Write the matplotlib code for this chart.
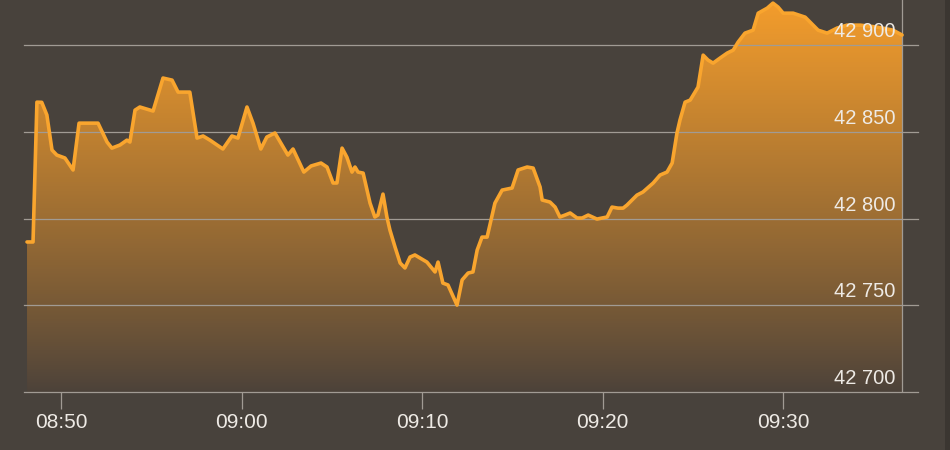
import numpy as np
import pandas as pd
import matplotlib
matplotlib.use("Agg")
import matplotlib.pyplot as plt
import matplotlib.dates as mdates
from matplotlib.patches import Rectangle

plt.rcParams['font.family'] = ['Liberation Sans', 'DejaVu Sans']

# index values
times = [
    "08:48:07", "08:48:27", "08:48:40", "08:48:56", "08:49:13", "08:49:30", "08:49:46", "08:50:13",
    "08:50:40", "08:51:00", "08:51:26", "08:52:03", "08:52:33", "08:52:49", "08:53:16", "08:53:39",
    "08:53:49", "08:54:06", "08:54:22", "08:55:06", "08:55:39", "08:56:09", "08:56:29", "08:57:08",
    "08:57:32", "08:57:52", "08:58:15", "08:58:58", "08:59:28", "08:59:48", "09:00:18", "09:00:38",
    "09:01:04", "09:01:24", "09:01:51", "09:02:34", "09:02:51", "09:03:27", "09:03:51", "09:04:24",
    "09:04:44", "09:05:04", "09:05:17", "09:05:34", "09:05:50", "09:06:07", "09:06:17", "09:06:27",
    "09:06:44", "09:07:07", "09:07:23", "09:07:33", "09:07:50", "09:08:03", "09:08:13", "09:08:30",
    "09:08:47", "09:09:03", "09:09:20", "09:09:36", "09:10:16", "09:10:43", "09:10:53", "09:11:09",
    "09:11:26", "09:11:56", "09:12:13", "09:12:33", "09:12:49", "09:13:03", "09:13:19", "09:13:36",
    "09:14:02", "09:14:26", "09:14:59", "09:15:19", "09:15:49", "09:16:09", "09:16:32", "09:16:39",
    "09:17:05", "09:17:22", "09:17:38", "09:17:55", "09:18:12", "09:18:35", "09:18:52", "09:19:12",
    "09:19:41", "09:20:15", "09:20:31", "09:20:51", "09:21:08", "09:21:21", "09:21:54", "09:22:14",
    "09:22:48", "09:23:11", "09:23:34", "09:23:51", "09:24:07", "09:24:17", "09:24:34", "09:24:51",
    "09:25:17", "09:25:34", "09:25:50", "09:26:07", "09:26:30", "09:26:54", "09:27:14", "09:27:30",
    "09:27:53", "09:28:20", "09:28:37", "09:29:07", "09:29:26", "09:29:43", "09:30:00", "09:30:33",
    "09:31:13", "09:31:29", "09:31:56", "09:32:26", "09:32:59", "09:33:32", "09:34:16", "09:35:12",
    "09:36:05", "09:36:35",
]
values = [
    42786.5, 42786.5, 42867.1, 42867.0, 42859.7, 42839.5, 42836.6, 42834.9,
    42828.0, 42855.0, 42855.0, 42855.0, 42844.1, 42840.6, 42842.4, 42845.2,
    42844.1, 42862.5, 42864.3, 42862.0, 42881.0, 42879.8, 42872.9, 42872.9,
    42846.4, 42847.6, 42845.2, 42840.1, 42847.6, 42846.4, 42864.3, 42855.0,
    42840.1, 42847.0, 42849.3, 42836.6, 42840.1, 42826.8, 42830.3, 42832.0,
    42829.7, 42820.5, 42820.5, 42840.6, 42835.4, 42826.8, 42829.7, 42826.8,
    42826.2, 42808.9, 42800.9, 42802.0, 42814.1, 42800.9, 42793.4, 42783.6,
    42774.4, 42771.5, 42777.8, 42779.0, 42774.9, 42769.2, 42774.9, 42762.8,
    42761.7, 42750.1, 42764.6, 42768.6, 42769.2, 42781.8, 42789.3, 42789.3,
    42808.9, 42816.4, 42817.6, 42828.0, 42829.7, 42829.1, 42818.2, 42810.7,
    42809.5, 42806.6, 42800.9, 42802.0, 42803.2, 42800.3, 42800.3, 42802.0,
    42799.7, 42800.9, 42806.6, 42806.0, 42806.0, 42807.8, 42813.5, 42815.3,
    42820.5, 42825.1, 42826.8, 42832.0, 42849.3, 42856.8, 42867.1, 42868.3,
    42875.8, 42894.2, 42891.4, 42889.6, 42892.5, 42895.4, 42897.1, 42901.7,
    42906.9, 42908.6, 42918.4, 42921.3, 42924.2, 42921.9, 42918.4, 42918.4,
    42916.1, 42913.3, 42908.6, 42906.9, 42909.8, 42911.5, 42911.5, 42910.4,
    42908.6, 42905.8,
]
y_ticks = [42700, 42750, 42800, 42850, 42900]
y_labels = ["42 700", "42 750", "42 800", "42 850", "42 900"]

day = "2024-01-01 "
t = pd.to_datetime([day + s for s in times])
x = mdates.date2num(t)
v = np.array(values)

bg = "#48423c"
grid_col = "#a19b94"
text_col = "#eeeae5"

fig = plt.figure(figsize=(9.5, 4.5), dpi=100, facecolor=bg)
ax = fig.add_axes([24 / 950, 58 / 450, 894 / 950, 392 / 450])
ax.set_facecolor(bg)

x0 = mdates.date2num(pd.Timestamp(day + "08:47:57"))
x1 = mdates.date2num(pd.Timestamp(day + "09:37:28"))
ymin, ymax = 42700, 42926

# gradient fill under the line
top = np.array([244, 157, 44]) / 255
bot = np.array([76, 66, 58]) / 255
f = np.linspace(0, 1, 256)[:, None]
grad = (bot + (top - bot) * f ** 0.9)[:, None, :]
poly = ax.fill_between(x, v, ymin, facecolor="none", edgecolor="none")
im = ax.imshow(grad, extent=[x[0], x[-1], ymin, ymax], origin="lower",
               aspect="auto", zorder=1, interpolation="bilinear")
im.set_clip_path(poly.get_paths()[0], transform=ax.transData)
ax.set_xlim(x0, x1)
ax.set_ylim(ymin, ymax)

for yt in y_ticks:
    ax.axhline(yt, color=grid_col, lw=0.9, zorder=2, clip_on=False)

ax.plot(x, v, color="#f9a52e", lw=2.6, zorder=3,
        solid_joinstyle="round", solid_capstyle="round")

# right edge marker line
ax.axvline(x[-1], color=grid_col, lw=0.9, zorder=2)

for yt, lab in zip(y_ticks, y_labels):
    ax.annotate(lab, xy=(1, yt), xycoords=ax.get_yaxis_transform(),
                xytext=(-23, 4), textcoords="offset pixels",
                ha="right", va="bottom", color=text_col, fontsize=14.5, zorder=4)

for s in ax.spines.values():
    s.set_visible(False)
ax.set_yticks([])
ax.xaxis.set_major_locator(mdates.MinuteLocator(byminute=[0, 10, 20, 30, 40, 50]))
ax.xaxis.set_major_formatter(mdates.DateFormatter("%H:%M"))
ax.tick_params(axis="x", length=12, width=0.9, color=grid_col, pad=3,
               labelcolor=text_col, labelsize=15)

fig.patches.append(Rectangle((945 / 950, 0), 5 / 950, 1, transform=fig.transFigure,
                             facecolor="#3b3631", edgecolor="none"))

fig.savefig("out.png", dpi=100, facecolor=bg)
